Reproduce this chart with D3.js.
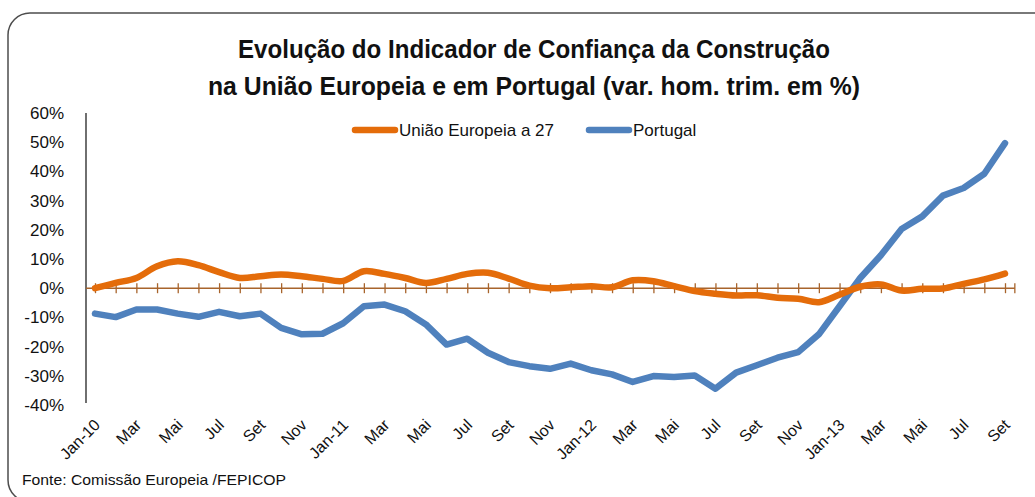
<!DOCTYPE html>
<html>
<head>
<meta charset="utf-8">
<script src="https://cdn.jsdelivr.net/npm/d3@7"></script>
<style>
  body { margin: 0; background: #fff; }
  svg { display: block; font-family: "Liberation Sans", Arial, sans-serif; }
</style>
</head>
<body>
<svg id="chart" width="1035" height="497"></svg>
<script>
const width = 1035;
const height = 497;

// categories: one per month, Jan-10 .. Set-13
const months = [
  "Jan-10", "Fev", "Mar", "Abr", "Mai", "Jun", "Jul", "Ago", "Set", "Out", "Nov", "Dez",
  "Jan-11", "Fev", "Mar", "Abr", "Mai", "Jun", "Jul", "Ago", "Set", "Out", "Nov", "Dez",
  "Jan-12", "Fev", "Mar", "Abr", "Mai", "Jun", "Jul", "Ago", "Set", "Out", "Nov", "Dez",
  "Jan-13", "Fev", "Mar", "Abr", "Mai", "Jun", "Jul", "Ago", "Set"
];

// União Europeia a 27 (%)
const ue27 = [
  0, 1.8, 3.5, 7.5, 9.2, 7.9, 5.5, 3.5, 4.1, 4.7, 4.1, 3.2,
  2.5, 5.8, 4.9, 3.5, 1.8, 3.2, 4.9, 5.3, 3.3, 0.9, 0, 0.3,
  0.7, 0.3, 2.7, 2.4, 0.7, -1, -1.9, -2.5, -2.4, -3.3, -3.6, -4.8,
  -2.2, 0.5, 1.3, -0.8, -0.2, -0.1, 1.5, 3, 5
];

// Portugal (%)
const portugal = [
  -8.7, -9.9, -7.3, -7.3, -8.7, -9.8, -8.1, -9.6, -8.7, -13.6, -15.8, -15.6,
  -12, -6.2, -5.6, -7.9, -12.4, -19.3, -17.3, -22.1, -25.3, -26.7, -27.6, -25.8,
  -28.1, -29.5, -32.1, -30.1, -30.4, -29.9, -34.4, -28.9, -26.4, -23.8, -21.9, -15.8,
  -6.2, 3.5, 11.3, 20.3, 24.6, 31.7, 34.3, 39.2, 49.7
];

const yTicks = [-40, -30, -20, -10, 0, 10, 20, 30, 40, 50, 60];

const series = [
  { name: "União Europeia a 27", values: ue27, color: "#E46C0A", smooth: true },
  { name: "Portugal", values: portugal, color: "#4F81BD", smooth: false }
];

const svg = d3.select("#chart");

// outer frame with rounded corners, cut by the window
svg.append("rect")
  .attr("x", 8).attr("y", 13)
  .attr("width", 1060).attr("height", 489)
  .attr("rx", 22)
  .attr("fill", "none")
  .attr("stroke", "#4d4d4d")
  .attr("stroke-width", 1.5);

// title
const title = svg.append("text")
  .attr("text-anchor", "middle")
  .attr("font-weight", "bold")
  .attr("font-size", 25)
  .attr("fill", "#111");
title.append("tspan").attr("x", 534).attr("y", 58)
  .attr("textLength", 592).attr("lengthAdjust", "spacingAndGlyphs")
  .text("Evolução do Indicador de Confiança da Construção");
title.append("tspan").attr("x", 534).attr("y", 95)
  .attr("textLength", 652).attr("lengthAdjust", "spacingAndGlyphs")
  .text("na União Europeia e em Portugal (var. hom. trim. em %)");

const x = d3.scalePoint()
  .domain(d3.range(months.length))
  .range([95, 1005]);

const y = d3.scaleLinear()
  .domain([-40, 60])
  .range([405, 113]);

// y axis
const yAxis = svg.append("g")
  .attr("transform", "translate(86,0)")
  .call(d3.axisLeft(y).tickValues(yTicks).tickSize(0).tickPadding(22).tickFormat(d => d + "%"));
yAxis.select(".domain").remove();
yAxis.selectAll("text")
  .attr("font-size", 17)
  .attr("fill", "#111")
  .attr("font-family", "Liberation Sans, Arial, sans-serif");
svg.append("line")
  .attr("x1", 86).attr("x2", 86)
  .attr("y1", y(60)).attr("y2", y(-40) - 2)
  .attr("stroke", "#222").attr("stroke-width", 1.3);

// x axis along zero
const step = x.step();
const xEnd = x(months.length - 1) + step / 2 - 0.5;
const xAxis = svg.append("g")
  .attr("transform", `translate(0,${y(0)})`)
  .call(d3.axisBottom(x).tickSize(5).tickFormat(""));
xAxis.select(".domain").remove();
xAxis.selectAll(".tick line")
  .attr("y1", -5).attr("y2", 5)
  .attr("stroke", "#A8642C").attr("stroke-width", 1.3);
xAxis.append("line")
  .attr("x1", 86).attr("x2", xEnd)
  .attr("stroke", "#A8642C").attr("stroke-width", 1.5);
xAxis.append("line")
  .attr("x1", xEnd).attr("x2", xEnd)
  .attr("y1", -5).attr("y2", 5)
  .attr("stroke", "#A8642C").attr("stroke-width", 1.3);

// month labels, every second month
svg.append("g")
  .selectAll("text")
  .data(months.map((m, i) => ({ m, i })).filter(d => d.i % 2 === 0))
  .join("text")
  .attr("transform", d => `translate(${x(d.i) + 6},${426}) rotate(-45)`)
  .attr("text-anchor", "end")
  .attr("font-size", 16)
  .attr("fill", "#111")
  .text(d => d.m);

// lines
const lineStraight = d3.line().x((d, i) => x(i)).y(d => y(d));
const lineSmooth = d3.line().x((d, i) => x(i)).y(d => y(d)).curve(d3.curveCatmullRom.alpha(0.5));

svg.append("g")
  .selectAll("path")
  .data(series.slice().reverse())
  .join("path")
  .attr("d", s => (s.smooth ? lineSmooth : lineStraight)(s.values))
  .attr("fill", "none")
  .attr("stroke", s => s.color)
  .attr("stroke-width", 6.5)
  .attr("stroke-linecap", "round")
  .attr("stroke-linejoin", "round");

// legend
const legendPos = [355, 589];
const legend = svg.append("g")
  .selectAll("g")
  .data(series)
  .join("g")
  .attr("transform", (d, i) => `translate(${legendPos[i]},130)`);
legend.append("line")
  .attr("x1", 0).attr("x2", 40)
  .attr("stroke", d => d.color)
  .attr("stroke-width", 6.5)
  .attr("stroke-linecap", "round");
legend.append("text")
  .attr("x", 44).attr("y", 6)
  .attr("font-size", 17)
  .attr("fill", "#111")
  .text(d => d.name);

// source
svg.append("text")
  .attr("x", 22).attr("y", 485)
  .attr("font-size", 15)
  .attr("textLength", 264).attr("lengthAdjust", "spacingAndGlyphs")
  .attr("fill", "#111")
  .text("Fonte: Comissão Europeia /FEPICOP");
</script>
</body>
</html>
